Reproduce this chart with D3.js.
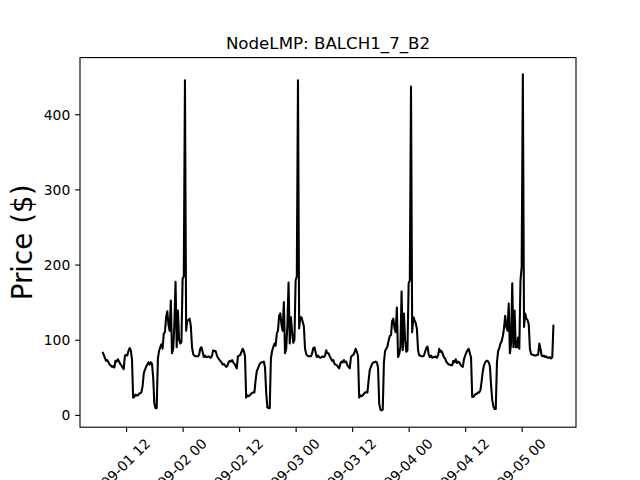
<!DOCTYPE html>
<html><head><meta charset="utf-8">
<script src="https://cdn.jsdelivr.net/npm/d3@7"></script>
<style>
body{margin:0;background:#fff}
svg{display:block}
text{font-family:"DejaVu Sans",sans-serif;fill:#000}
</style>
</head><body>
<svg id="chart" width="640" height="480"></svg>
<script>
const titleText = "NodeLMP: BALCH1_7_B2";
const yLabelText = "Price ($)";
const startTime = "2020-09-01T07:00:00Z";
const stepMinutes = 15;

const day1Prices = [84,80,76,72,73,70,67,66,64,65, 63,72,71,74,71,68,66,63,61,79,
  80,79,85,89,86,74,23,24,27,26, 26,28,29,30,38,55,60,64,67,70,
  67,70,68,50,15,9,9,75,85,90, 94,88,108,110,130,138,120,112,152,82,
  88,120,177,90,139,100,95,97,181,184, 445,112,126,126,128,118,90,81,79,78,
  78,78,80,88,90,84,77,79,77,77, 78,77,76,79,86,85];
const day2Prices = [85,80,76,74,72,70,67,68,66,64, 65,70,72,71,73,70,68,65,62,78,
  79,80,84,88,85,78,23,26,25,26, 28,29,30,30,46,58,62,66,69,70,
  70,71,63,30,10,9,9,75,85,90, 95,92,108,112,132,135,120,112,150,82,
  88,120,176,95,130,110,96,100,179,184, 445,115,130,130,124,118,88,81,79,78,
  78,78,82,89,90,83,77,79,77,76, 77,78,77,79,86,82];
const day3Prices = [82,78,75,72,73,68,67,66,64,62, 68,71,70,73,70,71,66,64,62,77,
  79,80,83,88,84,78,23,26,25,26, 28,30,30,30,46,60,64,68,70,70,
  71,70,63,15,7,6,7,70,85,88, 91,99,105,106,125,128,115,110,143,77,
  81,90,164,86,135,100,84,86,175,179, 437,110,130,126,122,115,86,79,79,78,
  78,79,84,89,91,81,77,79,76,77, 77,78,76,79,88,84];
const day4Prices = [85,81,77,75,71,69,67,67,66,66, 72,70,74,69,71,70,67,65,64,74,
  79,83,86,88,82,76,24,24,26,28, 28,30,30,33,45,58,66,70,72,72,
  70,65,40,20,11,8,8,70,85,89, 95,98,105,115,132,117,112,148,82,95,
  175,90,139,90,90,103,88,179,197,453, 117,135,128,126,121,88,81,80,80,79,
  79,80,80,95,88,79,78,79,77,78, 76,76,77,75,77,120];

const xTickTimes = ["2020-09-01T12:00:00Z","2020-09-02T00:00:00Z","2020-09-02T12:00:00Z",
  "2020-09-03T00:00:00Z","2020-09-03T12:00:00Z","2020-09-04T00:00:00Z",
  "2020-09-04T12:00:00Z","2020-09-05T00:00:00Z"];
const yTickValues = [0,100,200,300,400];

// build series
const prices = [].concat(day1Prices, day2Prices, day3Prices, day4Prices);
const t0 = new Date(startTime).getTime();
const series = prices.map((v,i)=>({t:new Date(t0 + i*stepMinutes*60000), v}));

const W=640,H=480;
const L=80,R=576,T=57.6,B=427.2;
const svg=d3.select("#chart");
svg.append("rect").attr("width",W).attr("height",H).attr("fill","#fff");

const tExt=d3.extent(series,d=>d.t.getTime());
const tPad=(tExt[1]-tExt[0])*0.05;
const x=d3.scaleUtc().domain([new Date(tExt[0]-tPad),new Date(tExt[1]+tPad)]).range([L,R]);
const vExt=d3.extent(series,d=>d.v);
const vPad=(vExt[1]-vExt[0])*0.05;
const y=d3.scaleLinear().domain([vExt[0]-vPad,vExt[1]+vPad]).range([B,T]);

// line
const line=d3.line().x(d=>x(d.t)).y(d=>y(d.v));
svg.append("path").datum(series).attr("d",line)
  .attr("fill","none").attr("stroke","#000").attr("stroke-width",2.08)
  .attr("stroke-linejoin","round");

// frame
svg.append("rect").attr("x",L).attr("y",T).attr("width",R-L).attr("height",B-T)
  .attr("fill","none").attr("stroke","#000").attr("stroke-width",1.11);

// x axis
const xAxis=d3.axisBottom(x).tickValues(xTickTimes.map(s=>new Date(s)))
  .tickFormat(d3.utcFormat("%m-%d %H")).tickSizeOuter(0).tickSize(4.86);
const gx=svg.append("g").attr("transform",`translate(0,${B})`).call(xAxis);
gx.select(".domain").remove();
gx.selectAll(".tick line").attr("stroke","#000").attr("stroke-width",1.11);
gx.selectAll(".tick text")
  .attr("font-size","13.89px").attr("font-family","DejaVu Sans")
  .attr("fill","#000")
  .attr("text-anchor","end").attr("dy",null)
  .attr("x",24.6).attr("y",17.3)
  .attr("transform","rotate(-45,24.6,17.3)");

// y axis
const yAxis=d3.axisLeft(y).tickValues(yTickValues).tickSizeOuter(0).tickSize(4.86).tickPadding(4.86);
const gy=svg.append("g").attr("transform",`translate(${L},0)`).call(yAxis);
gy.select(".domain").remove();
gy.selectAll(".tick line").attr("stroke","#000").attr("stroke-width",1.11);
gy.selectAll(".tick text")
  .attr("font-size","13.89px").attr("font-family","DejaVu Sans")
  .attr("fill","#000").attr("dy",null).attr("y",5.0);

// title
svg.append("text").attr("x",(L+R)/2).attr("y",49.3).attr("text-anchor","middle")
  .attr("font-size","16.67px").text(titleText);

// y label
svg.append("text").attr("transform",`translate(31.5,${(T+B)/2}) rotate(-90)`)
  .attr("text-anchor","middle").attr("font-size","27.78px").text(yLabelText);
</script>
</body></html>
